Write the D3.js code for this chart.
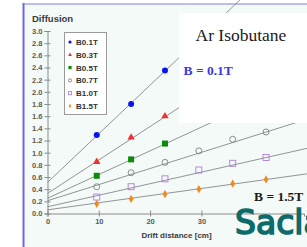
<!DOCTYPE html>
<html lang="en">
<head>
<meta charset="UTF-8">
<title>Ar Isobutane diffusion</title>
<script src="https://cdn.jsdelivr.net/npm/d3@7/dist/d3.min.js"></script>
<style>
    body { margin: 0; background: #ffffff; }
    svg { display: block; }
</style>
</head>
<body>
<svg id="mainsvg" width="307" height="247"></svg>
<script>
    // Data
    const fields = ['B0.1T', 'B0.3T', 'B0.5T', 'B0.7T', 'B1.0T', 'B1.5T'];
    const drift = [9.6, 16.3, 22.9, 29.5, 36.1, 42.6];
    const b01 = [1.29, 1.80, 2.35];
    const b03 = [0.85, 1.25, 1.60];
    const b05 = [0.62, 0.89, 1.15];
    const b07 = [0.44, 0.67, 0.84, 1.03, 1.22, 1.34];
    const b10 = [0.27, 0.44, 0.57, 0.715, 0.825, 0.92];
    const b15 = [0.16, 0.24, 0.32, 0.40, 0.49, 0.56];
    // linear fits drawn through each series
    const fitIntercept = [0.51, 0.33, 0.25, 0.21, 0.11, 0.06];
    const fitSlope = [0.080, 0.055, 0.039, 0.0265, 0.019, 0.0117];
    const yTicks = [0, 0.2, 0.4, 0.6, 0.8, 1.0, 1.2, 1.4, 1.6, 1.8, 2.0, 2.2, 2.4, 2.6, 2.8, 3.0];
    const xTicks = [0, 10, 20, 30];

    const seriesValues = [b01, b03, b05, b07, b10, b15];
    const markerType = ['dot', 'tri', 'sq', 'ocirc', 'osq', 'dia'];
    const colors = ['#0a14f0', '#f03030', '#0b8a0b', '#808080', '#b07ee0', '#f5881a'];

    const svg = d3.select('#mainsvg');

    const x = d3.scaleLinear().domain([0, 50]).range([47.5, 304]);
    const y = d3.scaleLinear().domain([0, 3]).range([213.5, 31]);

    // panel background + frame lines
    svg.append('rect').attr('x', 23).attr('y', 4).attr('width', 284).attr('height', 243).attr('fill', '#f4faf7');
    svg.append('line').attr('x1', 23).attr('x2', 307).attr('y1', 4).attr('y2', 4)
        .attr('stroke', '#a9a9e6').attr('stroke-width', 1.5);
    svg.append('line').attr('x1', 23.5).attr('x2', 23.5).attr('y1', 3).attr('y2', 247)
        .attr('stroke', '#6b6bd8').attr('stroke-width', 2);

    // fit lines
    const fits = svg.append('g');
    fields.forEach((f, i) => {
        fits.append('line')
            .attr('x1', x(0)).attr('y1', y(fitIntercept[i]))
            .attr('x2', x(52)).attr('y2', y(fitIntercept[i] + fitSlope[i] * 52))
            .attr('stroke', '#7a7a7a').attr('stroke-width', 0.8);
    });

    // axes
    const axisColor = '#8a8a8a';
    const yAxis = svg.append('g')
        .attr('transform', `translate(${x(0)},0)`)
        .call(d3.axisLeft(y).tickValues(yTicks).tickSize(3).tickPadding(2).tickFormat(d3.format('.1f')));
    yAxis.selectAll('.tick').append('line').attr('x2', 3);
    const xAxis = svg.append('g')
        .attr('transform', `translate(0,${y(0)})`)
        .call(d3.axisBottom(x).tickValues(xTicks).tickSize(3).tickPadding(2));
    xAxis.selectAll('.tick').append('line').attr('y2', -3);
    [yAxis, xAxis].forEach(a => {
        a.select('.domain').attr('stroke', axisColor);
        a.selectAll('line').attr('stroke', axisColor);
        a.selectAll('text')
            .attr('fill', '#5a5a5a')
            .style('font-family', 'Liberation Sans, Arial, sans-serif')
            .style('font-weight', 'bold')
            .style('font-size', '7.5px');
    });

    svg.append('text').attr('x', 32).attr('y', 22).text('Diffusion')
        .attr('fill', '#3a3a3a')
        .style('font-family', 'Liberation Sans, Arial, sans-serif')
        .style('font-weight', 'bold').style('font-size', '9.5px');
    svg.append('text').attr('x', 176.5).attr('y', 238).attr('text-anchor', 'middle').text('Drift distance [cm]')
        .attr('fill', '#3a3a3a')
        .style('font-family', 'Liberation Sans, Arial, sans-serif')
        .style('font-weight', 'bold').style('font-size', '8px');

    function marker(g, type, color, s) {
        if (type === 'dot') {
            g.append('circle').attr('r', s).attr('fill', color);
        } else if (type === 'ocirc') {
            g.append('circle').attr('r', s).attr('fill', 'none').attr('stroke', color).attr('stroke-width', 0.9);
        } else if (type === 'sq') {
            g.append('rect').attr('x', -s).attr('y', -s).attr('width', 2 * s).attr('height', 2 * s).attr('fill', color);
        } else if (type === 'osq') {
            g.append('rect').attr('x', -s).attr('y', -s).attr('width', 2 * s).attr('height', 2 * s)
                .attr('fill', 'none').attr('stroke', color).attr('stroke-width', 0.9);
        } else if (type === 'tri') {
            g.append('path').attr('d', d3.symbol(d3.symbolTriangle, s * s * 2.6)()).attr('fill', color);
        } else if (type === 'dia') {
            g.append('path').attr('d', d3.symbol(d3.symbolDiamond, s * s * 2.2)()).attr('fill', color);
        }
    }

    // data points
    const pts = svg.append('g');
    seriesValues.forEach((vals, i) => {
        vals.forEach((v, j) => {
            const g = pts.append('g').attr('transform', `translate(${x(drift[j])},${y(v)})`);
            marker(g, markerType[i], colors[i], 3);
        });
    });

    // legend
    const legend = svg.append('g');
    legend.append('rect').attr('x', 64.5).attr('y', 32.5).attr('width', 42).attr('height', 82)
        .attr('fill', '#ffffff').attr('stroke', '#9a9a9a').attr('stroke-width', 1);
    fields.forEach((f, i) => {
        const cy = 42 + i * 12.8;
        const g = legend.append('g').attr('transform', `translate(70,${cy})`);
        marker(g, markerType[i], colors[i], 1.6);
        legend.append('text').attr('x', 76).attr('y', cy + 3).text(f)
            .attr('fill', '#333333')
            .style('font-family', 'Liberation Sans, Arial, sans-serif')
            .style('font-weight', 'bold').style('font-size', '8px');
    });

    // white title box on top right
    svg.append('rect').attr('x', 179).attr('y', 13).attr('width', 128).attr('height', 110).attr('fill', '#ffffff');
    svg.append('text').attr('x', 195.5).attr('y', 41).text('Ar Isobutane')
        .attr('fill', '#1a1a1a')
        .style('font-family', 'Liberation Serif, Times New Roman, serif').style('font-size', '17.5px');
    svg.append('text').attr('x', 183.5).attr('y', 75).text('B = 0.1T')
        .attr('fill', '#3a3ae0')
        .style('font-family', 'Liberation Serif, Times New Roman, serif')
        .style('font-weight', 'bold').style('font-size', '13.5px');
    svg.append('text').attr('x', 254).attr('y', 201).text('B = 1.5T')
        .attr('fill', '#1a1a1a')
        .style('font-family', 'Liberation Serif, Times New Roman, serif')
        .style('font-weight', 'bold').style('font-size', '13.5px');

    // lab logo text, runs off the right edge as in the picture
    svg.append('text').attr('x', 235).attr('y', 234).text('Saclay')
        .attr('fill', '#0c6b6b').attr('stroke', '#0c6b6b').attr('stroke-width', 1.6)
        .style('font-family', 'DejaVu Sans, sans-serif')
        .style('font-size', '33px');
</script>
</body>
</html>
